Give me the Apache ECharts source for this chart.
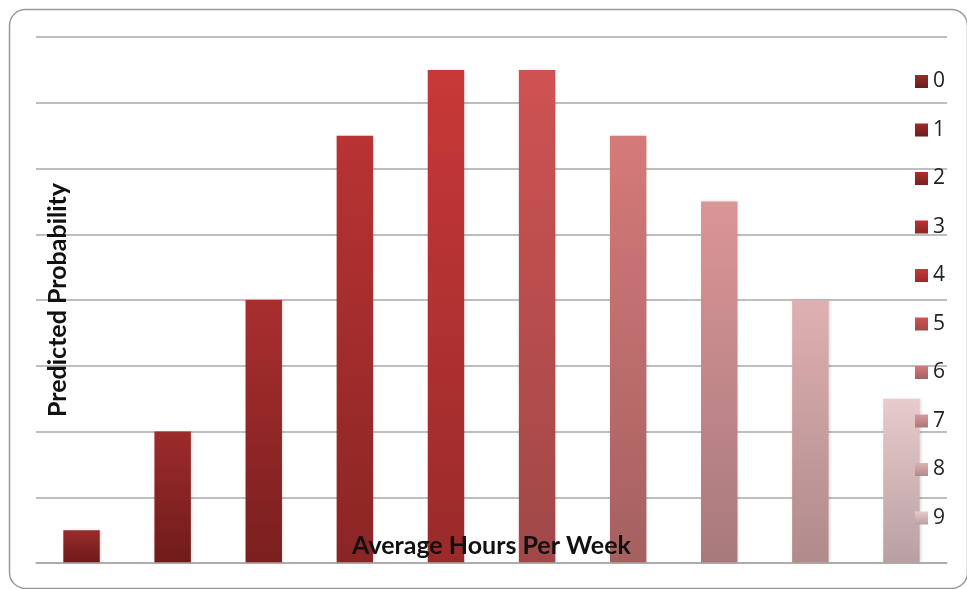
<!DOCTYPE html>
<html><head><meta charset="utf-8">
<script src="https://cdn.jsdelivr.net/npm/echarts@6/dist/echarts.min.js"></script>
<style>html,body{margin:0;padding:0;background:#fff}#c{width:967px;height:589px}</style>
</head><body><div id="c"></div>
<script>
var categories = ['0','1','2','3','4','5','6','7','8','9'];
var seriesNames = ['0','1','2','3','4','5','6','7','8','9'];
var values = [0.5, 2, 4, 6.5, 7.5, 7.5, 6.5, 5.5, 4, 2.5];
var topColors = ['#9a2c2c','#9d2b2b','#a92e2e','#b93333','#c83838','#cf5252','#d57a7a','#da9597','#deb0b1','#e8cbcb'];
var bottomColors = ['#6b1a1a','#701b1b','#7a1f1f','#8a2525','#9a2a2a','#a04848','#a56060','#a87a7c','#b08a8c','#b8a0a2'];
var xTitle = 'Average Hours Per Week';
var yTitle = 'Predicted Probability';

var chart = echarts.init(document.getElementById('c'));
var series = seriesNames.map(function(name, i){
  var d = categories.map(function(c, j){ return j === i ? values[i] : '-'; });
  return {
    name: name, type: 'bar', stack: 'all', data: d, barWidth: '40%',
    itemStyle: {
      color: new echarts.graphic.LinearGradient(0,0,0,1,[{offset:0,color:topColors[i]},{offset:1,color:bottomColors[i]}]),
      shadowBlur: 3, shadowColor: 'rgba(0,0,0,0.15)', shadowOffsetX: 1
    }
  };
});
chart.setOption({
  animation: false,
  backgroundColor: '#fff',
  graphic: [{
    type: 'rect', left: 7, top: 7, z: -1,
    shape: { width: 958, height: 579, r: 16 },
    style: { fill: 'none', stroke: '#9a9a9a', lineWidth: 1.5 }
  }],
  grid: { left: 36, right: 20, top: 37, bottom: 26 },
  legend: {
    orient: 'vertical', left: 915, top: 71, itemGap: 27.5, padding: 0,
    itemWidth: 13, itemHeight: 13, icon: 'rect',
    textStyle: { fontSize: 21, color: '#222', fontFamily: 'Open Sans' },
    data: seriesNames
  },
  xAxis: {
    type: 'category', data: categories, z: 10,
    axisLabel: { show: false }, axisTick: { show: false },
    axisLine: { lineStyle: { color: '#a8a8a8', width: 1.5 } },
    name: xTitle, nameLocation: 'middle', nameGap: -30,
    nameTextStyle: { fontSize: 25, fontWeight: 'bold', color: '#111', fontFamily: 'Lato' }
  },
  yAxis: {
    type: 'value', min: 0, max: 8, interval: 1,
    axisLabel: { show: false }, axisTick: { show: false }, axisLine: { show: false },
    splitLine: { lineStyle: { color: '#a8a8a8', width: 1.5 } },
    name: yTitle, nameLocation: 'middle', nameGap: -34, nameRotate: 90,
    nameTextStyle: { fontSize: 25, fontWeight: 'bold', color: '#111', fontFamily: 'Lato' }
  },
  series: series
});
</script></body></html>
